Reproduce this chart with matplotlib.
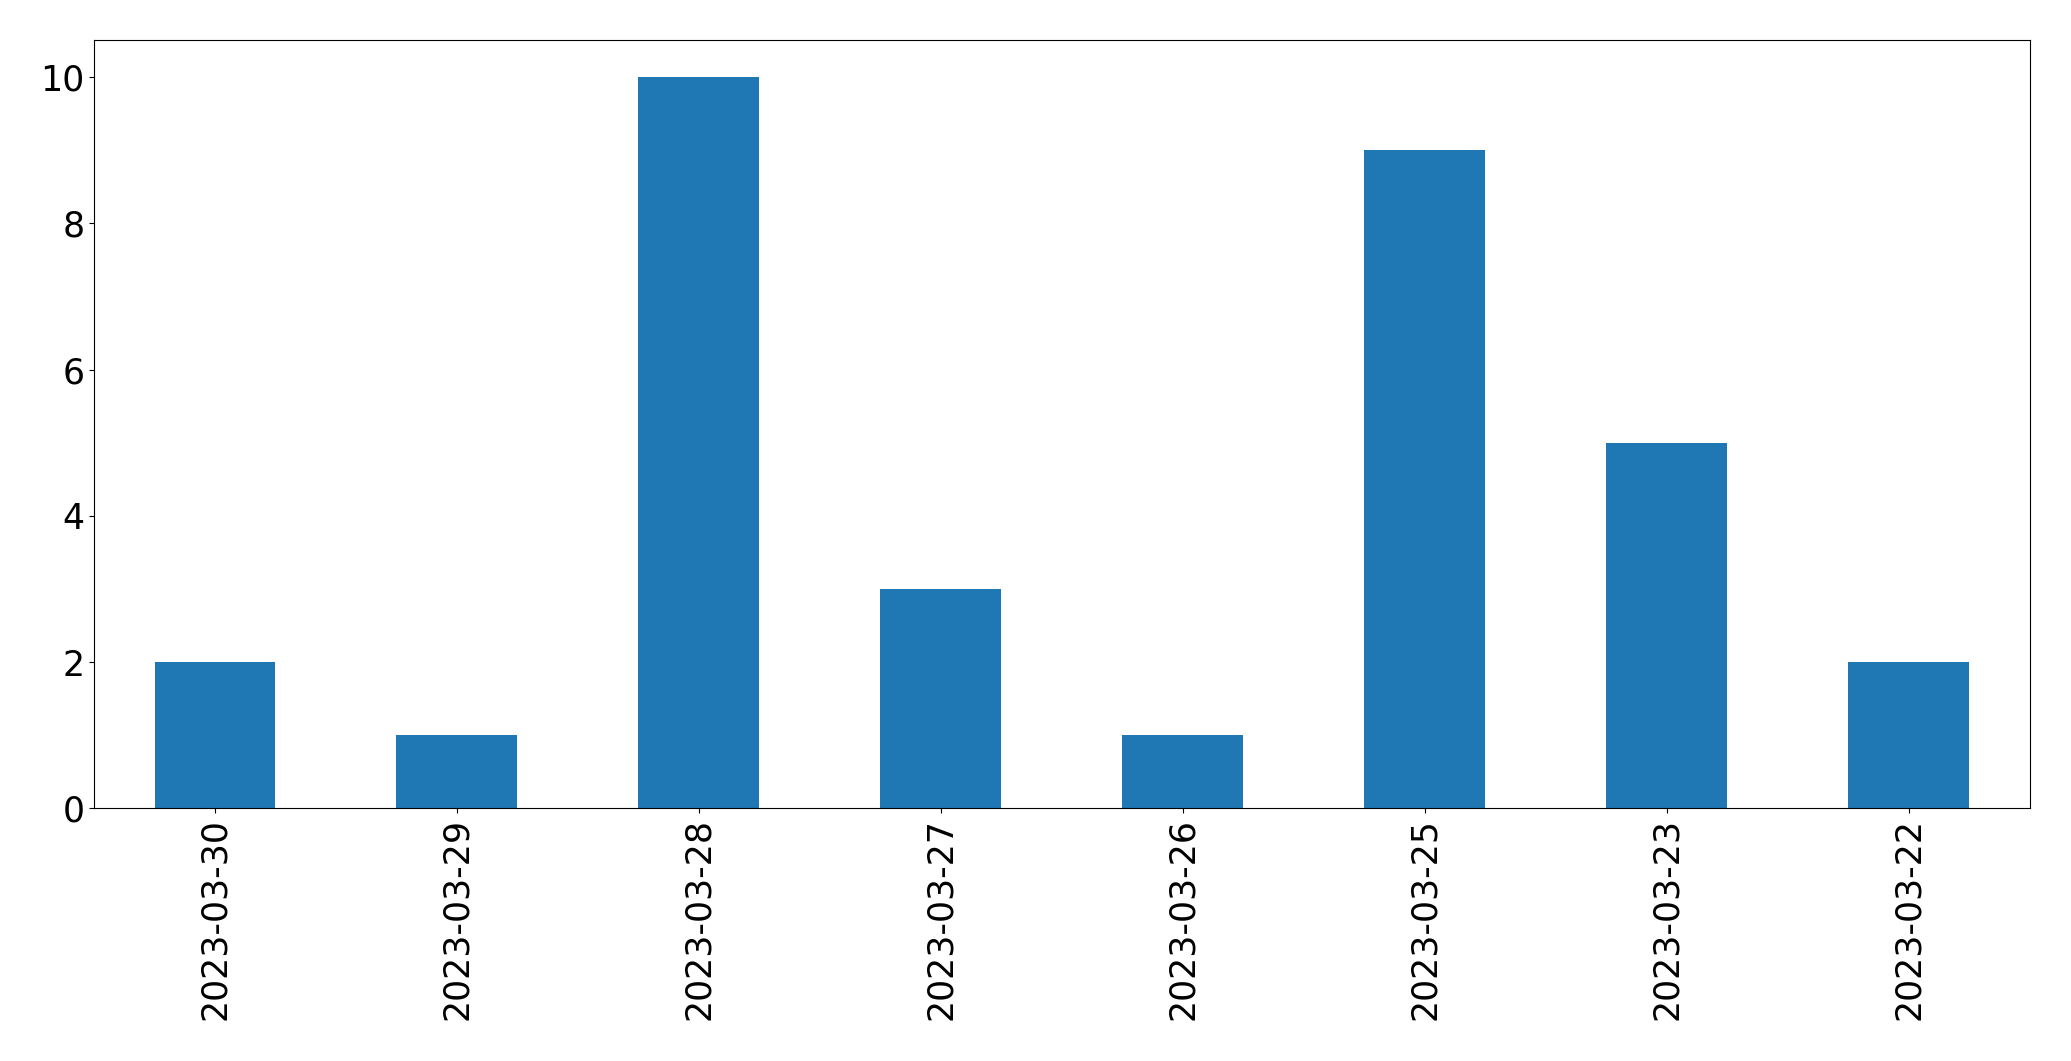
import matplotlib
matplotlib.use("Agg")
import matplotlib.pyplot as plt

# 数据
dates = ["2023-03-30", "2023-03-29", "2023-03-28", "2023-03-27",
         "2023-03-26", "2023-03-25", "2023-03-23", "2023-03-22"]
counts = [2, 1, 10, 3, 1, 9, 5, 2]

fig = plt.figure(figsize=(20.71, 10.61), dpi=100)
ax = fig.add_axes([0.0454, 0.238, 0.9346, 0.724])

x = range(len(dates))
ax.bar(x, counts, width=0.5, color="#1f77b4")
ax.set_xlim(-0.5, len(dates) - 0.5)
ax.set_ylim(0, 10.5)
ax.set_xticks(list(x))
ax.set_xticklabels(dates, rotation=90)
ax.tick_params(labelsize=25)

fig.savefig("out.png", dpi=100)
